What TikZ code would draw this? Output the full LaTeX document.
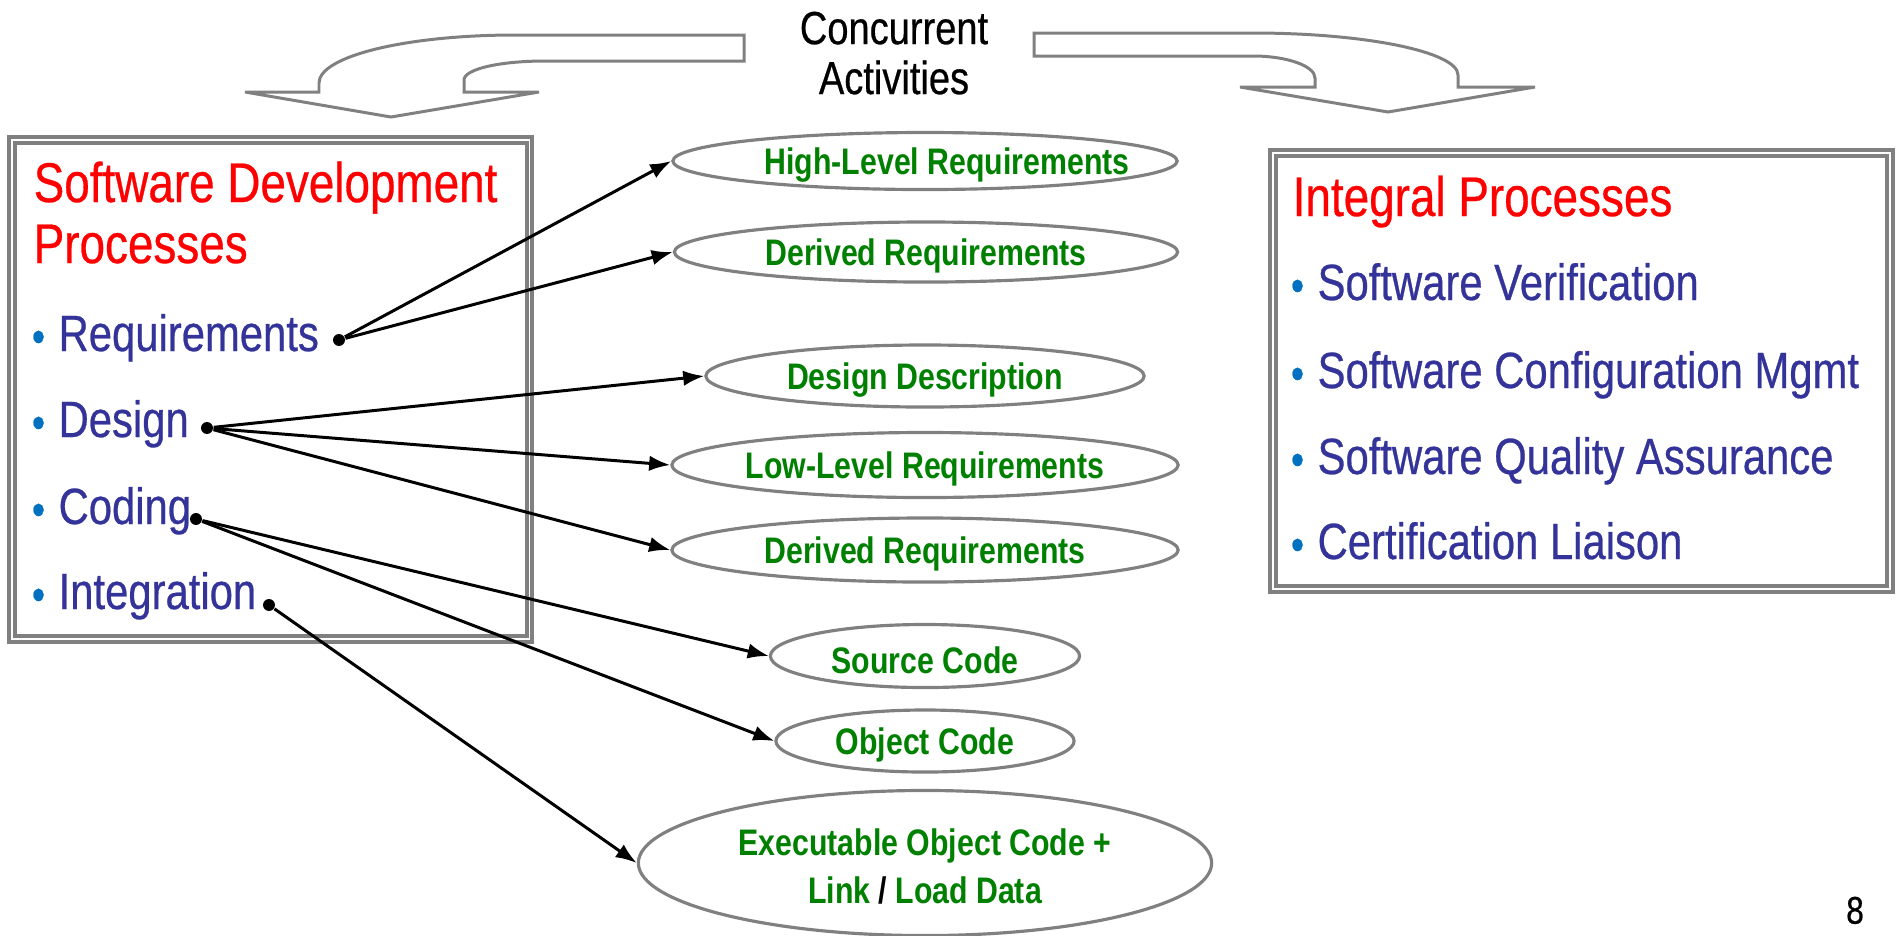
\documentclass[tikz,border=0pt]{standalone}
\usepackage{fontspec}
\setmainfont{Liberation Sans}[FakeStretch=0.82, UprightFeatures={FakeBold=0.5}]
\usepackage{xcolor}
\usetikzlibrary{shapes.geometric, arrows.meta, positioning}

\definecolor{headred}{HTML}{FF0000}
\definecolor{itemblue}{HTML}{333399}
\definecolor{bulletblue}{HTML}{0070C0}
\definecolor{outgreen}{HTML}{008000}
\definecolor{framegray}{HTML}{808080}

\newcommand{\bul}{{\color{bulletblue}\fontsize{13}{13}\selectfont\makebox[2.2pt][c]{\raisebox{-0.3pt}{•}}}\hspace{4.6pt}}

\begin{document}
\begin{tikzpicture}[x=0.01cm, y=-0.01cm,
		every node/.style={inner sep=0pt},
		head/.style={anchor=base west, text=headred, font=\fontsize{15.9}{19}\selectfont},
		item/.style={anchor=base west, text=itemblue, font=\fontsize{14.5}{17}\selectfont},
		oval/.style={ellipse, draw=framegray, line width=0.9pt},
		outtext/.style={text=outgreen, font=\bfseries\fontsize{10.5}{13.7}\selectfont, align=center, yshift=-1.1pt},
		dot/.style={circle, fill=black, minimum size=3.4pt},
		link/.style={-{Latex[length=6pt,width=4.4pt]}, line width=0.85pt},
		bent/.style={draw=framegray, fill=white, line width=0.85pt, line join=miter},
		frame/.style={draw=framegray, line width=1pt}]
		\useasboundingbox (0,0) rectangle (1900,935);
		
		% bent arrows
		\draw[bent] (744,35) -- (515,35) .. controls (407,35) and (319,56) .. (319,83) -- (319,92) -- (245,92) -- (391,117) -- (539,92) -- (464,92) -- (464,80) .. controls (464,69) and (500,61) .. (545,61) -- (744,61) -- cycle;
		\draw[bent] (1034,33) -- (1253,33) .. controls (1366,33) and (1458,52) .. (1458,75) -- (1458,87) -- (1535,87) -- (1388,112) -- (1240,87) -- (1315,87) -- (1315,78) .. controls (1315,66) and (1287,56) .. (1253,56) -- (1034,56) -- cycle;
		\node[align=center, anchor=north, font=\fontsize{13.2}{14.2}\selectfont] (conc) at (894,11) {Concurrent\\Activities};
		
		% boxes
		\draw[frame] (9,137) rectangle (532,642);
		\draw[frame] (15,143) rectangle (527,636);
		\draw[frame] (1270,150) rectangle (1893,592);
		\draw[frame] (1276,156) rectangle (1887,586);
		
		\node[head] (sdp1) at (33,202) {Software Development};
		\node[head] (sdp2) at (33,263) {Processes};
		\node[item] (req) at (34,351) {\bul Requirements};
		\node[item] (des) at (34,437) {\bul Design};
		\node[item] (cod) at (34,524) {\bul Coding};
		\node[item] (int) at (34,609) {\bul Integration};
		
		\node[head] (ip) at (1292,216) {Integral Processes};
		\node[item] (sv) at (1293,300) {\bul Software Verification};
		\node[item] (scm) at (1293,388) {\bul Software Configuration Mgmt};
		\node[item] (sqa) at (1293,474) {\bul Software Quality Assurance};
		\node[item] (cl) at (1293,559) {\bul Certification Liaison};
		
		% outputs
		\node[oval, minimum width=5.04cm, minimum height=0.57cm, label={[outtext, xshift=6.3pt]center:High-Level Requirements}] (hlr) at (925,161) {};
		\node[oval, minimum width=5.03cm, minimum height=0.60cm, label={[outtext]center:Derived Requirements}] (dr1) at (926,252) {};
		\node[oval, minimum width=4.38cm, minimum height=0.62cm, label={[outtext]center:Design Description}] (dd) at (925,376) {};
		\node[oval, minimum width=5.06cm, minimum height=0.65cm, label={[outtext]center:Low-Level Requirements}] (llr) at (925,465) {};
		\node[oval, minimum width=5.06cm, minimum height=0.64cm, label={[outtext]center:Derived Requirements}] (dr2) at (925,550) {};
		\node[oval, minimum width=3.09cm, minimum height=0.63cm, label={[outtext]center:Source Code}] (src) at (925,656) {};
		\node[oval, minimum width=2.98cm, minimum height=0.62cm, label={[outtext]center:Object Code}] (obj) at (925,741) {};
		\node[oval, minimum width=5.73cm, minimum height=1.45cm, label={[outtext]center:Executable Object Code +\\Link {\color{black}/} Load Data}] (exe) at (925,863) {};
		
		\node[dot] (rdot) at (339,340) {};
		\node[dot] (ddot) at (207,428) {};
		\node[dot] (cdot) at (196,519) {};
		\node[dot] (idot) at (269,605) {};
		
		\draw (rdot) edge[link] (hlr.west) ;
		\draw (rdot) edge[link] (dr1.west) ;
		\draw (ddot) edge[link] (dd.west) ;
		\draw (ddot) edge[link] (llr.west) ;
		\draw (ddot) edge[link] (dr2.west) ;
		\draw (cdot) edge[link] (src.west) ;
		\draw (cdot) edge[link] (obj.west) ;
		\draw (idot) edge[link] (exe.west) ;
		
		\node[anchor=north, font=\fontsize{11}{11}\selectfont] (pnum) at (1855,896) {8};
		
\end{tikzpicture}
\end{document}
